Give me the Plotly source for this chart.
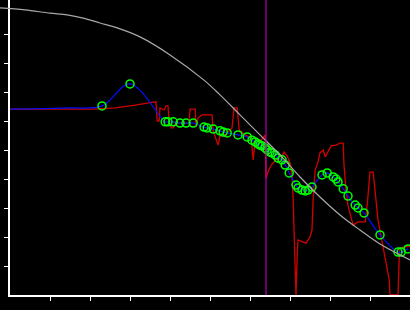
import plotly.graph_objects as go

# ---- data (x: time-like units, y: level units) ----
red_x = [0, 2.08, 2.63, 2.80, 3.13, 3.43, 3.65, 3.68, 3.73, 3.75, 3.85, 3.90, 3.95, 3.98, 4.03, 4.08,
         4.15, 4.30, 4.48, 4.50, 4.63, 4.65, 4.70, 4.80, 5.05, 5.08, 5.15, 5.20, 5.25, 5.40, 5.55,
         5.60, 5.68, 5.73, 5.88, 6.03, 6.08, 6.13, 6.28, 6.35, 6.38, 6.40, 6.45, 6.53, 6.65, 6.78,
         6.85, 6.93, 7.00, 7.05, 7.08, 7.13, 7.15, 7.18, 7.20, 7.40, 7.50, 7.55, 7.58, 7.63, 7.70,
         7.75, 7.83, 7.88, 7.95, 8.03, 8.15, 8.25, 8.33, 8.35, 8.40, 8.45, 8.53, 8.58, 8.70, 8.88,
         8.93, 8.98, 9.00, 9.08, 9.13, 9.20, 9.28, 9.35, 9.43, 9.48, 9.50, 9.70, 9.73, 9.75, 9.88, 10.0]
red_y = [6.41, 6.41, 6.45, 6.48, 6.55, 6.62, 6.66, 6.00, 6.00, 6.45, 6.38, 6.52, 6.52, 5.93, 5.76, 5.76,
         5.93, 5.93, 5.93, 6.41, 6.41, 5.79, 6.10, 6.21, 6.21, 5.66, 5.41, 5.17, 5.48, 5.55, 5.76,
         6.45, 6.45, 5.69, 5.52, 5.41, 4.66, 5.34, 5.34, 5.48, 5.52, 4.03, 4.24, 4.48, 4.66, 4.72,
         4.93, 4.79, 4.55, 4.14, 3.28, 0.86, 0.00, 1.38, 1.90, 1.79, 2.00, 2.24, 3.34, 4.31, 4.59,
         4.90, 5.00, 4.76, 4.93, 5.14, 5.17, 5.24, 5.24, 4.48, 3.62, 3.10, 2.66, 2.41, 2.52, 2.52,
         3.10, 4.14, 4.24, 4.24, 3.62, 2.59, 2.00, 1.45, 0.97, 0.52, 0.00, 0.00, 1.28, 1.62, 1.66, 1.69]

gray_x = [-0.25, 0.375, 1.00, 1.43, 1.83, 2.25, 2.68, 3.25, 4.00, 4.85, 5.25, 5.75, 6.25, 6.75,
          7.25, 7.75, 8.25, 8.75, 9.25, 10.0]
gray_y = [9.90, 9.83, 9.72, 9.66, 9.55, 9.38, 9.21, 8.90, 8.28, 7.41, 6.90, 6.21, 5.52, 4.83,
          4.07, 3.38, 2.76, 2.24, 1.76, 1.21]

pt_x = [2.30, 3.00, 3.88, 3.95, 4.08, 4.25, 4.40, 4.58, 4.85, 4.93, 5.08, 5.25, 5.33, 5.43, 5.70,
        5.93, 6.05, 6.13, 6.20, 6.25, 6.30, 6.38, 6.43, 6.50, 6.55, 6.63, 6.70, 6.80, 6.88, 6.98,
        7.15, 7.20, 7.30, 7.38, 7.45, 7.55, 7.80, 7.93, 8.08, 8.15, 8.20, 8.33, 8.45, 8.63, 8.70,
        8.85, 9.25, 9.70, 9.78, 9.95]
pt_y = [6.52, 7.28, 5.97, 5.97, 5.97, 5.93, 5.93, 5.93, 5.79, 5.76, 5.72, 5.66, 5.62, 5.59, 5.52,
        5.45, 5.34, 5.28, 5.21, 5.17, 5.14, 5.07, 5.00, 4.93, 4.90, 4.83, 4.72, 4.66, 4.48, 4.21,
        3.79, 3.69, 3.62, 3.59, 3.62, 3.72, 4.14, 4.21, 4.07, 4.00, 3.90, 3.66, 3.41, 3.10, 3.00,
        2.83, 2.07, 1.48, 1.48, 1.59]

lead_x = [0, 1.45]
lead_y = [6.41, 6.45]

marker_x = 6.4
x_ticks = [1, 2, 3, 4, 5, 6, 7, 8, 9]
y_ticks = [1, 2, 3, 4, 5, 6, 7, 8, 9]

W, H = 410, 310
left_px = 10
y_top = 295 / 29.0

fig = go.Figure()
fig.add_trace(go.Scatter(x=gray_x, y=gray_y, mode="lines", xaxis="x2", yaxis="y",
                         line=dict(color="#a8a8a8", width=1.2, shape="spline"), hoverinfo="skip"))
fig.add_trace(go.Scatter(x=red_x, y=red_y, mode="lines",
                         line=dict(color="#d40000", width=1.3), hoverinfo="skip"))
fig.add_trace(go.Scatter(x=lead_x + pt_x, y=lead_y + pt_y, mode="lines",
                         line=dict(color="#0010ff", width=1.2, shape="spline", smoothing=1.0),
                         hoverinfo="skip"))
fig.add_trace(go.Scatter(x=pt_x, y=pt_y, mode="markers",
                         marker=dict(symbol="circle-open", size=8, color="#00ff00",
                                     line=dict(width=1.5, color="#00ff00")),
                         hoverinfo="skip"))

fig.add_shape(type="line", xref="x", yref="paper", x0=marker_x, x1=marker_x, y0=0, y1=1,
              line=dict(color="#b000b0", width=1.2), layer="above")

fig.update_layout(
    width=W, height=H,
    margin=dict(l=0, r=0, t=0, b=15),
    paper_bgcolor="black", plot_bgcolor="rgba(0,0,0,0)",
    showlegend=False,
    xaxis=dict(domain=[left_px / W, 1], range=[0, 10], showgrid=False, zeroline=False,
               showline=True, linecolor="white", linewidth=1.5,
               ticks="outside", tickvals=x_ticks, ticklen=4, tickcolor="white", tickwidth=1,
               showticklabels=False, fixedrange=True),
    xaxis2=dict(domain=[0, 1], range=[-0.25, 10], anchor="y", visible=False),
    yaxis=dict(range=[0, y_top], showgrid=False, zeroline=False,
               showline=True, linecolor="white", linewidth=1.5,
               ticks="outside", tickvals=y_ticks, ticklen=4, tickcolor="white", tickwidth=1,
               showticklabels=False),
)

fig.write_html("out.html")
